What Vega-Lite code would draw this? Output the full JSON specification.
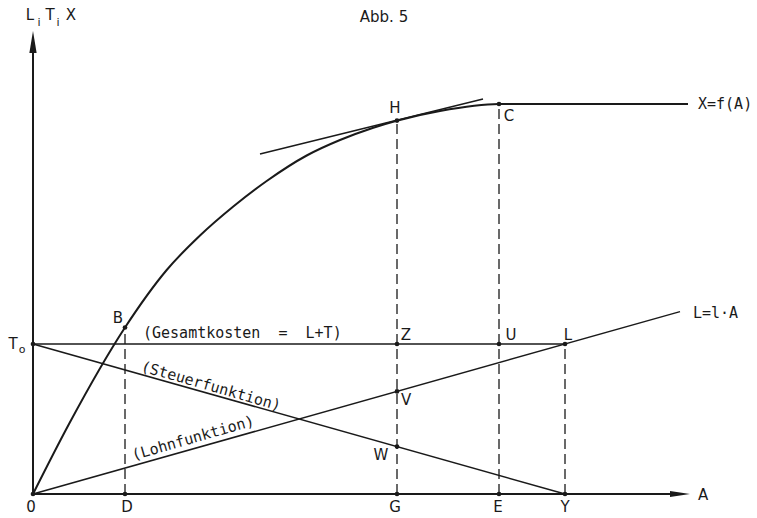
{
  "$schema": "https://vega.github.io/schema/vega-lite/v6.json",
  "width": 700,
  "height": 484,
  "autosize": {"type": "none"},
  "padding": {"left": 33, "top": 10, "right": 24, "bottom": 24},
  "background": "white",
  "config": {"view": {"stroke": null}},
  "datasets": {
    "curve": [
      {"x": 0, "y": 0}, {"x": 36, "y": 70}, {"x": 92, "y": 166.5}, {"x": 133.7, "y": 224},
      {"x": 167, "y": 258.5}, {"x": 200.3, "y": 287.5}, {"x": 233.7, "y": 313}, {"x": 273.7, "y": 338.5},
      {"x": 307, "y": 354}, {"x": 340.3, "y": 366.3}, {"x": 363.7, "y": 373.3}, {"x": 407, "y": 383},
      {"x": 466, "y": 390}, {"x": 527, "y": 390}, {"x": 655, "y": 390}
    ],
    "axes": [
      {"id": "xaxis", "x": 0, "y": 0, "o": 1}, {"id": "xaxis", "x": 648, "y": 0, "o": 2},
      {"id": "yaxis", "x": 0, "y": 0, "o": 1}, {"id": "yaxis", "x": 0, "y": 452, "o": 2}
    ],
    "lines": [
      {"id": "tangent", "x": 227, "y": 340, "o": 1}, {"id": "tangent", "x": 450, "y": 395, "o": 2},
      {"id": "steuer", "x": 0, "y": 150, "o": 1}, {"id": "steuer", "x": 532, "y": 0, "o": 2},
      {"id": "gesamt", "x": 0, "y": 150, "o": 1}, {"id": "gesamt", "x": 532, "y": 150, "o": 2},
      {"id": "lohn", "x": 0, "y": 0, "o": 1}, {"id": "lohn", "x": 647, "y": 182.4, "o": 2}
    ],
    "dashes": [
      {"id": "D", "x": 92, "y": 0, "o": 1}, {"id": "D", "x": 92, "y": 166.5, "o": 2},
      {"id": "G", "x": 364, "y": 0, "o": 1}, {"id": "G", "x": 364, "y": 373.4, "o": 2},
      {"id": "E", "x": 466, "y": 0, "o": 1}, {"id": "E", "x": 466, "y": 390, "o": 2},
      {"id": "Y", "x": 532, "y": 0, "o": 1}, {"id": "Y", "x": 532, "y": 150, "o": 2}
    ],
    "dots": [
      {"x": 92, "y": 166.5}, {"x": 364, "y": 373.4}, {"x": 466, "y": 390},
      {"x": 364, "y": 150}, {"x": 466, "y": 150}, {"x": 532, "y": 150},
      {"x": 364, "y": 102.6}, {"x": 364, "y": 47.4},
      {"x": 92, "y": 0}, {"x": 364, "y": 0}, {"x": 466, "y": 0}, {"x": 532, "y": 0},
      {"x": 0, "y": 0}, {"x": 0, "y": 150}
    ],
    "yarrow": [{"x": 0, "y": 452}],
    "xarrow": [{"x": 647, "y": 0}],
    "labels": [
      {"t": "Abb. 5", "x": 351, "y": 477},
      {"t": "L", "x": -3, "y": 479}, {"t": "T", "x": 17, "y": 479}, {"t": "X", "x": 38, "y": 479},
      {"t": "H", "x": 362, "y": 386}, {"t": "C", "x": 476, "y": 378},
      {"t": "B", "x": 85, "y": 176}, {"t": "T", "x": -20, "y": 150},
      {"t": "Z", "x": 373, "y": 159}, {"t": "U", "x": 478, "y": 159}, {"t": "L", "x": 535, "y": 159},
      {"t": "V", "x": 373, "y": 94}, {"t": "W", "x": 348, "y": 39}, {"t": "A", "x": 670, "y": -1},
      {"t": "0", "x": -2, "y": -13}, {"t": "D", "x": 94, "y": -13}, {"t": "G", "x": 362, "y": -13},
      {"t": "E", "x": 465, "y": -13}, {"t": "Y", "x": 532, "y": -13}
    ],
    "subs": [
      {"t": "i", "x": 6, "y": 471}, {"t": "i", "x": 25, "y": 471}, {"t": "o", "x": -11, "y": 144}
    ],
    "leftlabels": [
      {"t": "X=f(A)", "x": 665, "y": 390},
      {"t": "(Gesamtkosten\u00a0\u00a0=\u00a0\u00a0L+T)", "x": 110, "y": 161},
      {"t": "L=l·A", "x": 660, "y": 181}
    ],
    "steuerlabel": [{"t": "(Steuerfunktion)", "x": 178, "y": 108}],
    "lohnlabel": [{"t": "(Lohnfunktion)", "x": 160, "y": 56}]
  },
  "encoding": {
    "x": {"field": "x", "type": "quantitative", "scale": {"domain": [0, 700], "nice": false, "zero": false}, "axis": null},
    "y": {"field": "y", "type": "quantitative", "scale": {"domain": [0, 484], "nice": false, "zero": false}, "axis": null}
  },
  "layer": [
    {
      "data": {"name": "axes"},
      "mark": {"type": "line", "color": "#1a1a1a", "strokeWidth": 2},
      "encoding": {"detail": {"field": "id"}, "order": {"field": "o"}}
    },
    {
      "data": {"name": "lines"},
      "mark": {"type": "line", "color": "#1a1a1a", "strokeWidth": 1.5},
      "encoding": {"detail": {"field": "id"}, "order": {"field": "o"}}
    },
    {
      "data": {"name": "dashes"},
      "mark": {"type": "line", "color": "#1a1a1a", "strokeWidth": 1.3, "strokeDash": [10, 5]},
      "encoding": {"detail": {"field": "id"}, "order": {"field": "o"}}
    },
    {
      "data": {"name": "curve"},
      "mark": {"type": "line", "color": "#1a1a1a", "strokeWidth": 2, "interpolate": "monotone"},
      "encoding": {}
    },
    {
      "data": {"name": "dots"},
      "mark": {"type": "point", "filled": true, "color": "#1a1a1a", "size": 22, "opacity": 1}
    },
    {
      "data": {"name": "yarrow"},
      "mark": {"type": "point", "filled": true, "color": "#1a1a1a", "opacity": 1, "shape": "M0,-1L0.33,1L-0.33,1Z", "size": 484}
    },
    {
      "data": {"name": "xarrow"},
      "mark": {"type": "point", "filled": true, "color": "#1a1a1a", "opacity": 1, "shape": "M1,0L-1,0.3L-1,-0.3Z", "size": 400}
    },
    {
      "data": {"name": "labels"},
      "mark": {"type": "text", "font": "DejaVu Sans", "fontSize": 15, "color": "#1a1a1a", "align": "center", "baseline": "middle"},
      "encoding": {"text": {"field": "t"}}
    },
    {
      "data": {"name": "subs"},
      "mark": {"type": "text", "font": "DejaVu Sans", "fontSize": 11, "color": "#1a1a1a", "align": "center", "baseline": "middle"},
      "encoding": {"text": {"field": "t"}}
    },
    {
      "data": {"name": "leftlabels"},
      "mark": {"type": "text", "font": "DejaVu Sans Mono", "fontSize": 15, "color": "#1a1a1a", "align": "left", "baseline": "middle"},
      "encoding": {"text": {"field": "t"}}
    },
    {
      "data": {"name": "steuerlabel"},
      "mark": {"type": "text", "font": "DejaVu Sans Mono", "fontSize": 15, "color": "#1a1a1a", "align": "center", "baseline": "middle", "angle": 16},
      "encoding": {"text": {"field": "t"}}
    },
    {
      "data": {"name": "lohnlabel"},
      "mark": {"type": "text", "font": "DejaVu Sans Mono", "fontSize": 15, "color": "#1a1a1a", "align": "center", "baseline": "middle", "angle": -16},
      "encoding": {"text": {"field": "t"}}
    }
  ]
}
